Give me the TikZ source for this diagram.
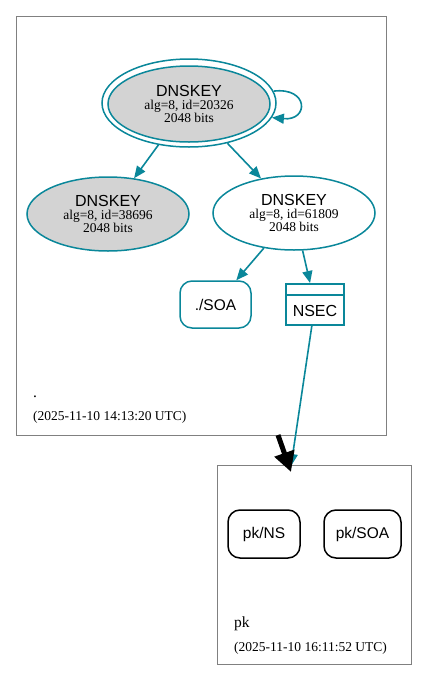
\documentclass[tikz,border=0pt]{standalone}
\usepackage{fontspec}
\setmainfont{Liberation Serif}
\setsansfont{Liberation Sans}
\usetikzlibrary{arrows.meta,shapes.geometric}
\definecolor{tealc}{HTML}{0A879A}
\definecolor{kgray}{HTML}{D3D3D3}
\newcommand{\keytext}[1]{{\sffamily\fontsize{16}{13}\selectfont DNSKEY}\\alg=8, id=#1\\2048 bits}
\begin{document}
\begin{tikzpicture}[x=1pt,y=-1pt,
  keynode/.style={ellipse, draw=tealc, line width=1.5pt, inner sep=0, align=center, font=\fontsize{13.5}{13}\selectfont},
  tedge/.style={draw=tealc, line width=1.6pt, -{Triangle[length=12pt,width=10pt]}},
  rrec/.style={rounded corners=12pt, draw, line width=1.5pt, inner sep=0, font=\sffamily\fontsize{15.5}{16}\selectfont},
  cluster/.style={draw=gray, line width=0.8pt, inner sep=0},
  clabel/.style={anchor=base west, inner sep=0},
]
\useasboundingbox (0,0) rectangle (428,681);
% clusters
\node[cluster, minimum width=370, minimum height=419] (c1) at (201,225.5) {};
\node[cluster, minimum width=194, minimum height=199] (c2) at (314,564.5) {};
% keys
\node[keynode, fill=white, minimum width=174, minimum height=88] (k1o) at (189,103) {};
\node[keynode, fill=kgray, minimum width=162, minimum height=76] (k1) at (189,104) {\keytext{20326}};
\node[keynode, fill=kgray, minimum width=162, minimum height=74] (k2) at (108,214) {\keytext{38696}};
\node[keynode, fill=white, minimum width=162, minimum height=74] (k3) at (294,213) {\keytext{61809}};
% SOA and NSEC
\node[rrec, draw=tealc, minimum width=71, minimum height=47] (soa) at (215.5,304.5) {./SOA};
\node[draw=tealc, line width=2pt, minimum width=58, minimum height=41, inner sep=0] (nsec) at (315,304.5) {};
\draw[draw=tealc, line width=2pt] ([yshift=-12pt]nsec.north west) -- ([yshift=-12pt]nsec.north east);
\node[font=\sffamily\fontsize{16}{16}\selectfont, inner sep=0] (nsectxt) at (315,311) {NSEC};
% bottom zone nodes
\node[rrec, minimum width=72, minimum height=48] (pkns) at (264,534) {pk/NS};
\node[rrec, minimum width=77, minimum height=48] (pksoa) at (362.5,534) {pk/SOA};
% cluster labels
\node[clabel, font=\fontsize{15.5}{16}\selectfont] (dot) at (33,397) {.};
\node[clabel, font=\fontsize{13.5}{14}\selectfont] (date1) at (33,420) {(2025-11-10 14:13:20 UTC)};
\node[clabel, font=\fontsize{15.5}{16}\selectfont] (pk) at (234,627) {pk};
\node[clabel, font=\fontsize{13.5}{14}\selectfont] (date2) at (234,651) {(2025-11-10 16:11:52 UTC)};
% edges
\draw[tedge] (k1o.8) .. controls (309,87) and (309,121) .. (k1o.-10);
\draw[tedge] (k1o) -- (k2);
\draw[tedge] (k1o) -- (k3);
\draw[tedge] (k3) -- (soa);
\draw[tedge] (k3) -- (nsec);
\coordinate (nsecend) at (291,466);
\draw[tedge] (nsec) -- (nsecend);
\coordinate (bkstart) at (278,435);
\coordinate (bkend) at (291,472);
\draw[line width=5pt, -{Triangle[length=20pt,width=20pt]}] (bkstart) -- (bkend);
\end{tikzpicture}
\end{document}
